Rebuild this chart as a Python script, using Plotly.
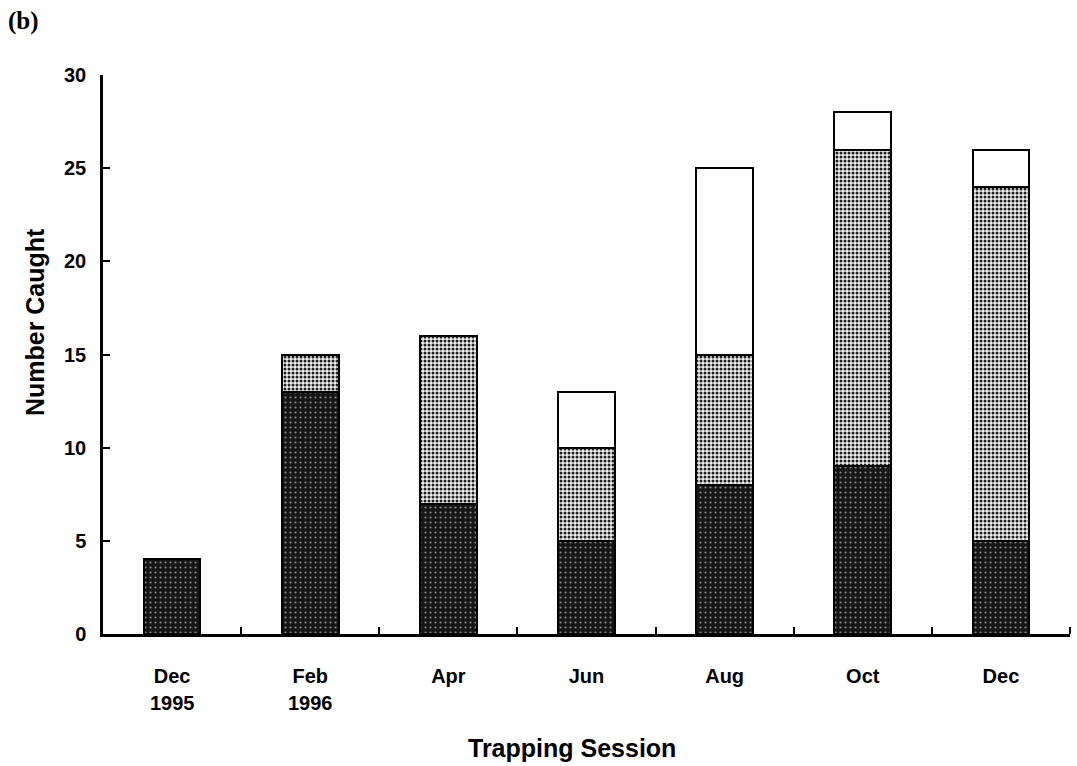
import plotly.graph_objects as go

# Trapping sessions (two-line labels: month and, where given, year)
months = ["Dec", "Feb", "Apr", "Jun", "Aug", "Oct", "Dec"]
years = ["1995", "1996", "", "", "", "", ""]

# Number caught per session, stacked from bottom to top
dark_counts = [4, 13, 7, 5, 8, 9, 5]
grey_counts = [0, 2, 9, 5, 7, 17, 19]
white_counts = [0, 0, 0, 3, 10, 2, 2]

y_ticks = [0, 5, 10, 15, 20, 25, 30]

positions = list(range(len(months)))
bar_width = 0.41
sans = "Liberation Sans, Arial, sans-serif"

fig = go.Figure()

fig.add_trace(go.Bar(
    x=positions, y=dark_counts, width=bar_width,
    marker=dict(
        color="#151515",
        line=dict(color="black", width=2),
        pattern=dict(shape=".", bgcolor="#161616", fgcolor="#8a8a8a",
                     size=5, solidity=0.14, fillmode="replace"),
    ),
    showlegend=False, hoverinfo="y",
))
fig.add_trace(go.Bar(
    x=positions, y=grey_counts, width=bar_width,
    marker=dict(
        color="white",
        line=dict(color="black", width=2),
        pattern=dict(shape=".", bgcolor="#eeeeee", fgcolor="#222222",
                     size=4, solidity=0.45, fillmode="replace"),
    ),
    showlegend=False, hoverinfo="y",
))
fig.add_trace(go.Bar(
    x=positions, y=white_counts, width=bar_width,
    marker=dict(color="white", line=dict(color="black", width=2)),
    showlegend=False, hoverinfo="y",
))

fig.update_layout(
    barmode="stack",
    width=1077, height=766,
    margin=dict(l=103, r=7, t=75, b=132),
    paper_bgcolor="white", plot_bgcolor="white",
    font=dict(family=sans, size=20, color="black"),
    xaxis=dict(
        range=[-0.5, len(months) - 0.5],
        tickmode="array", tickvals=positions,
        ticktext=[f"<b>{m}</b>" for m in months],
        ticks="", showgrid=False, zeroline=False,
        showline=True, linecolor="black", linewidth=2.5,
        tickfont=dict(family=sans, size=20),
        ticklabelstandoff=22,
        minor=dict(tickmode="array",
                   tickvals=[p + 0.5 for p in positions],
                   ticks="inside", ticklen=7, tickwidth=2, tickcolor="black"),
    ),
    yaxis=dict(
        range=[0, 30], tickmode="array", tickvals=y_ticks,
        ticktext=[f"<b>{v}</b>" for v in y_ticks],
        ticks="inside", ticklen=7, tickwidth=2, tickcolor="black",
        showgrid=False, zeroline=False,
        showline=True, linecolor="black", linewidth=2.5,
        tickfont=dict(family=sans, size=20),
        ticklabelstandoff=10,
    ),
)

# Year line under the first two month labels
for p, yr in zip(positions, years):
    if yr:
        fig.add_annotation(x=p, xref="x", y=0, yref="paper", yshift=-69,
                           yanchor="middle", text=f"<b>{yr}</b>", showarrow=False,
                           font=dict(family=sans, size=20))

# Axis titles
fig.add_annotation(x=0.485, xref="paper", y=0, yref="paper", yshift=-114,
                   yanchor="middle", text="<b>Trapping Session</b>", showarrow=False,
                   font=dict(family=sans, size=25))
fig.add_annotation(x=-0.0703, xref="paper", y=0.558, yref="paper",
                   xanchor="center", yanchor="middle", textangle=-90,
                   text="<b>Number Caught</b>", showarrow=False,
                   font=dict(family=sans, size=25))

# Panel label
fig.add_annotation(x=-0.1, xref="paper", y=1.0966, yref="paper",
                   xanchor="left", yanchor="middle", text="<b>(b)</b>", showarrow=False,
                   font=dict(family="Liberation Serif, Times New Roman, serif", size=25))

fig.write_html("out.html")
